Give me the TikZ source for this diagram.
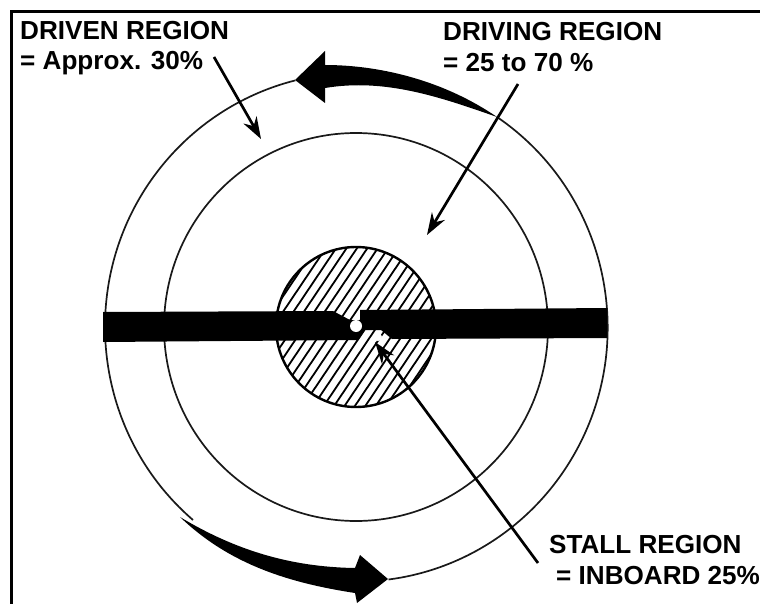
\documentclass[tikz,border=0pt]{standalone}
\usepackage{fontspec}
\setmainfont{Liberation Sans}
\usetikzlibrary{arrows.meta}
\tikzset{
  circ/.style={line width=1.7pt,black!90},
  lbl/.style={font=\fontsize{26.1}{30}\selectfont\bfseries,anchor=west,inner sep=0pt,align=left},
  pointer/.style={line width=2.7pt,-{Stealth[length=22pt,width=15pt]}},
  hatchline/.style={line width=1.8pt}
}
\begin{document}
\begin{tikzpicture}[x=1pt,y=-1pt]
\useasboundingbox (0,0) rectangle (760,604);
\fill[white] (0,0) rectangle (760,604);
% frame
\draw[line width=3.5pt] (11.5,604) -- (11.5,11.5) -- (760,11.5);
% outer circle
\draw[circ] (497,117) arc[start angle=-56,end angle=82.7,x radius=251,y radius=254];
\draw[circ] (193,520) arc[start angle=130.5,end angle=256,x radius=251,y radius=254];
% inner circle
\draw[circ] (356,327) ellipse[x radius=192,y radius=194];
% hatch
\begin{scope}
\clip (356,327) circle[radius=80];
\foreach \i in {-12,...,12}{
  \draw[hatchline] ({356+\i*10.4+80},{327-119}) -- ({356+\i*10.4-80},{327+119});
}
\end{scope}
\draw[line width=2.4pt] (356,327) circle[radius=80];
% blade
\fill (103,312) -- (333,311) -- (350,320) -- (360,320) -- (360,310) -- (607,308) -- (607,338)
  -- (392,339) -- (381,330) -- (365,330) -- (358,340) -- (103,342) -- cycle;
\fill[white] (356,326) circle[radius=6];
\fill[white] (378,337) circle[radius=4];
% rotation arrows
\fill (295,80) -- (325,51) -- (325,65) .. controls (375,65) and (440,78) .. (497,117)
  .. controls (440,97) and (385,78) .. (325,88) -- (325,103) -- cycle;
\fill (388,579) -- (360,555) -- (355,568) .. controls (290,567) and (235,550) .. (180,517)
  .. controls (230,565) and (290,583) .. (355,593) -- (357,603) -- cycle;
% labels
\node[lbl] (driven) at (20,31) {DRIVEN REGION};
\node[lbl] (drivenb) at (20,63) {= Approx. 30\%};
\node[lbl] (driving) at (443,32) {DRIVING REGION};
\node[lbl] (drivingb) at (443,63) {= 25 to 70 \%};
\node[lbl] (stall) at (549,545) {STALL REGION};
\node[lbl] (stallb) at (556,576) {= INBOARD 25\%};
% pointers
\coordinate (p1) at (261,139);
\coordinate (p2) at (427,235);
\coordinate (p3) at (375,342);
\draw[pointer] (214,57) -- (p1);
\draw[pointer] (518,84) -- (p2);
\draw[pointer] (538,563) -- (p3);
\end{tikzpicture}
\end{document}
